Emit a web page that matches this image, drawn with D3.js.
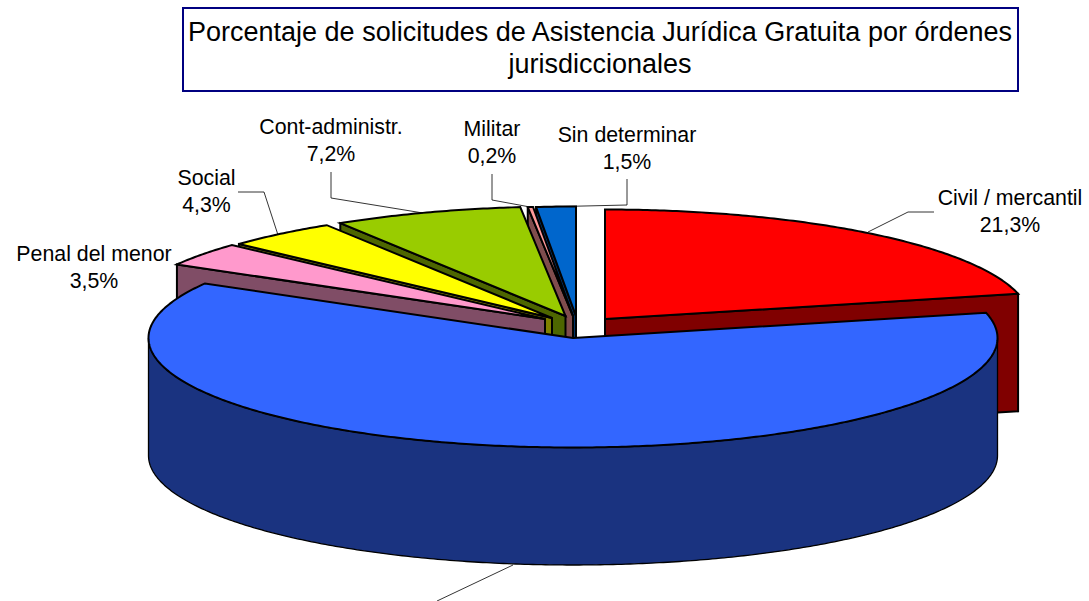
<!DOCTYPE html>
<html>
<head>
<meta charset="utf-8">
<script src="https://cdn.jsdelivr.net/npm/d3@7"></script>
<style>
  html, body { margin: 0; background: #fff; }
  svg { display: block; }
  text { font-family: "Liberation Sans", Arial, sans-serif; fill: #000; }
</style>
</head>
<body>
<svg id="chart" width="1089" height="601"></svg>
<script>
// values (the big slice has its label cut off at the bottom)
const categories = ["Civil / mercantil", "Penal", "Penal del menor", "Social", "Cont-administr.", "Militar", "Sin determinar"];
const percents = [21.3, 62.0, 3.5, 4.3, 7.2, 0.2, 1.5];
const percentLabels = ["21,3%", "62,0%", "3,5%", "4,3%", "7,2%", "0,2%", "1,5%"];
const titleLines = ["Porcentaje de solicitudes de Asistencia Jurídica Gratuita por órdenes", "jurisdiccionales"];

const topColors = ["#FF0000", "#3366FF", "#FF99CC", "#FFFF00", "#99CC00", "#FF9999", "#0066CC"];
const sideColors = ["#800000", "#1A3380", "#804D66", "#808000", "#4D6600", "#804D4D", "#003366"];

// layout: how far each slice is pulled out of the pie, in px
const pullX = [32, 0, -28, -21, -7.5, 0, 3];
const pullY = [-19, 0, -19, -20, -22, -22, -22];
// label anchor (centre x, first baseline) and leader polyline
const labelX = [1010, null, 94, 206.5, 331, 492, 627];
const labelY = [205, null, 261, 185, 134, 136, 142];
const leaders = [
    [[868, 232], [908, 212], [934, 212]],
    [[513, 565], [437, 601]],
    null,
    [[238, 192], [264, 192], [278, 235]],
    [[331, 172], [331, 198], [423, 213]],
    [[492, 174], [492, 200], [530, 207]],
    [[627, 179], [627, 205], [541, 207]]
];

const cx = 573, cy = 338, rx = 424.5, ry = 109.5, depth = 117.5;

const svg = d3.select("#chart");

// unit circle to screen
const sx = d3.scaleLinear().domain([-1, 1]).range([-rx, rx]);
const sy = d3.scaleLinear().domain([-1, 1]).range([-ry, ry]);

const slices = d3.pie().sort(null).value(d => d).startAngle(0).endAngle(2 * Math.PI)(percents);
slices.forEach((s, i) => {
    s.ax = cx + pullX[i];
    s.ay = cy + pullY[i];
});

const rim = (s, a) => [s.ax + sx(Math.sin(a)), s.ay + sy(-Math.cos(a))];
const arcPoints = (s, a0, a1) => {
    const n = Math.max(2, Math.ceil((a1 - a0) / 0.01));
    return d3.range(n + 1).map(k => rim(s, a0 + (a1 - a0) * k / n));
};
const line = d3.line();
const closed = pts => line(pts) + "Z";
const shift = p => [p[0], p[1] + depth];

function drawSlice(g, s, i) {
    const apex = [s.ax, s.ay];
    const a0 = s.startAngle, a1 = s.endAngle;

    const face = a => {
        const p = rim(s, a);
        g.append("path")
            .attr("d", closed([apex, p, shift(p), shift(apex)]))
            .attr("fill", sideColors[i]);
    };
    // radial cut faces that look toward the viewer
    if (Math.sin(a0) < 1e-6) face(a0);
    if (Math.sin(a1) > -1e-6) face(a1);

    // outer wall, front half only
    const w0 = Math.max(a0, Math.PI / 2), w1 = Math.min(a1, 3 * Math.PI / 2);
    if (w1 > w0) {
        const wall = arcPoints(s, w0, w1);
        g.append("path")
            .attr("d", closed(wall.concat(wall.slice().reverse().map(shift))))
            .attr("fill", sideColors[i])
            .attr("stroke-width", 1.3);
    }

    g.append("path")
        .attr("d", closed([apex].concat(arcPoints(s, a0, a1))))
        .attr("fill", topColors[i]);
}

// painter's order, back slices first and the big front slice last
const order = [6, 5, 4, 3, 2, 0, 1];
const pie = svg.append("g")
    .attr("stroke", "#000")
    .attr("stroke-width", 2)
    .attr("stroke-linejoin", "miter");
order.forEach(i => drawSlice(pie, slices[i], i));

// leader lines
svg.append("g").selectAll("path")
    .data(leaders.filter(d => d))
    .enter().append("path")
    .attr("d", d => line(d))
    .attr("fill", "none")
    .attr("stroke", "#000")
    .attr("stroke-width", 0.8);

// labels
categories.forEach((name, i) => {
    if (labelX[i] === null) return;
    const t = svg.append("text")
        .attr("text-anchor", "middle")
        .attr("font-size", 21.33);
    t.append("tspan").attr("x", labelX[i]).attr("y", labelY[i]).text(name);
    t.append("tspan").attr("x", labelX[i]).attr("y", labelY[i] + 27).text(percentLabels[i]);
});

// title box
svg.append("rect")
    .attr("x", 183).attr("y", 8)
    .attr("width", 835).attr("height", 83)
    .attr("fill", "#fff")
    .attr("stroke", "#000080")
    .attr("stroke-width", 2);
svg.append("g").selectAll("text")
    .data(titleLines)
    .enter().append("text")
    .attr("x", 600)
    .attr("y", (d, i) => 41 + i * 32)
    .attr("text-anchor", "middle")
    .attr("font-size", 27)
    .text(d => d);
</script>
</body>
</html>
